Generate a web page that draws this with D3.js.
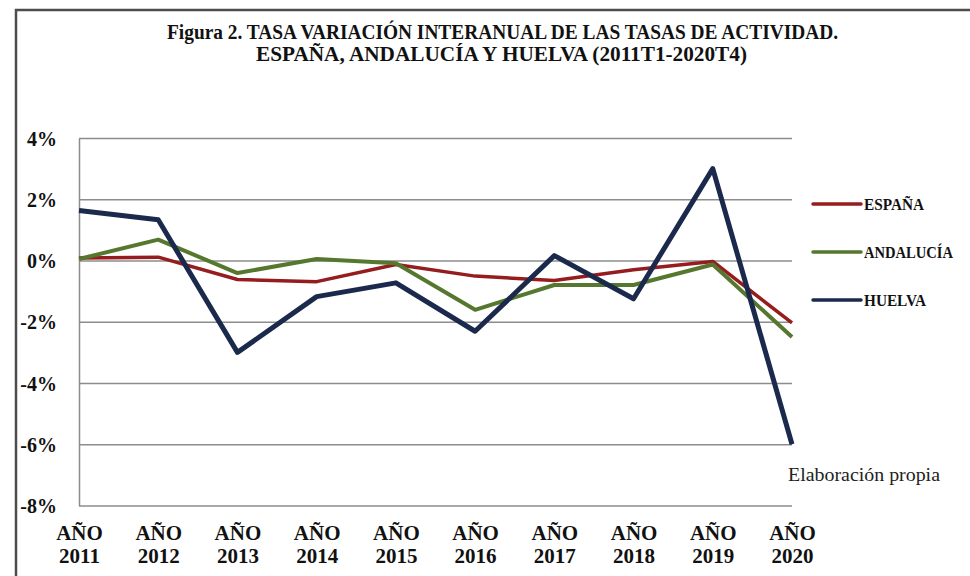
<!DOCTYPE html>
<html>
<head>
<meta charset="utf-8">
<script src="https://cdn.jsdelivr.net/npm/d3@7"></script>
<style>
  body { margin: 0; background: #fff; }
  svg { display: block; font-family: "Liberation Serif", "DejaVu Serif", serif; }
</style>
</head>
<body>
<div id="chart"></div>
<script>
// data
const years = ["2011", "2012", "2013", "2014", "2015", "2016", "2017", "2018", "2019", "2020"]
const espana    = [0.08, 0.11, -0.62, -0.69, -0.13, -0.51, -0.65, -0.30, -0.03, -2.04]
const andalucia = [0.05, 0.68, -0.41, 0.05, -0.09, -1.61, -0.80, -0.80, -0.13, -2.50]
const huelva    = [1.63, 1.33, -3.00, -1.18, -0.73, -2.31, 0.16, -1.25, 3.00, -6.00]
const yTicks = [-8, -6, -4, -2, 0, 2, 4]

const seriesNames = ["ESPAÑA", "ANDALUCÍA", "HUELVA"]
const seriesValues = [espana, andalucia, huelva]
const colors = ["#951c1f", "#56772e", "#1b2a4c"]
const widths = [3.5, 4, 5]

var width = 970, height = 576
var plot = {left: 79, right: 792, top: 138, bottom: 505.5}

var svg = d3.select("#chart")
  .append("svg")
    .attr("width", width)
    .attr("height", height)

// frame (top and left edges)
svg.append("path")
  .attr("d", "M16,576V10H970")
  .attr("fill", "none")
  .attr("stroke", "#4d4d4d")
  .attr("stroke-width", 2.5)

// title
var title = svg.append("g")
  .attr("font-weight", "bold")
  .attr("font-size", 20)
  .attr("fill", "#111")
title.append("text")
  .attr("x", 167).attr("y", 39)
  .attr("textLength", 671)
  .attr("lengthAdjust", "spacingAndGlyphs")
  .text("Figura 2. TASA VARIACIÓN INTERANUAL DE LAS TASAS DE ACTIVIDAD.")
title.append("text")
  .attr("x", 256).attr("y", 61)
  .attr("textLength", 491)
  .attr("lengthAdjust", "spacingAndGlyphs")
  .text("ESPAÑA, ANDALUCÍA Y HUELVA (2011T1-2020T4)")

var x = d3.scalePoint()
  .domain(years)
  .range([plot.left, plot.right])

var y = d3.scaleLinear()
  .domain([-8, 4])
  .range([plot.bottom, plot.top])

// y axis with gridlines
var yAxis = svg.append("g")
  .attr("transform", "translate(" + plot.left + ",0)")
  .call(d3.axisLeft(y)
    .tickValues(yTicks)
    .tickSize(-(plot.right - plot.left))
    .tickSizeOuter(0)
    .tickPadding(22)
    .tickFormat(function(d) { return d + "%" }))
yAxis.select(".domain").attr("stroke", "#8c8c8c").attr("stroke-width", 1.5)
yAxis.selectAll(".tick line").attr("stroke", "#8c8c8c").attr("stroke-width", 1.5)
yAxis.selectAll(".tick text")
  .attr("font-family", "Liberation Serif, serif")
  .attr("font-weight", "bold")
  .attr("font-size", 20)
  .attr("fill", "#111")
  .attr("dy", "0.35em")

// x axis labels in two lines
var xAxis = svg.append("g")
  .attr("transform", "translate(0," + plot.bottom + ")")
  .call(d3.axisBottom(x).tickSize(0).tickFormat(""))
xAxis.select(".domain").remove()
var xt = xAxis.selectAll(".tick").append("text")
  .attr("text-anchor", "middle")
  .attr("font-family", "Liberation Serif, serif")
  .attr("font-weight", "bold")
  .attr("font-size", 21)
  .attr("fill", "#111")
xt.append("tspan").attr("x", 0).attr("y", 34.5).text("AÑO")
xt.append("tspan").attr("x", 0).attr("y", 57.5).text(function(d) { return d })

// lines
var line = d3.line()
  .x(function(d, i) { return x(years[i]) })
  .y(function(d) { return y(d) })

svg.selectAll(".serie")
  .data(seriesValues)
  .enter()
  .append("path")
    .attr("class", "serie")
    .attr("d", line)
    .attr("fill", "none")
    .attr("stroke", function(d, i) { return colors[i] })
    .attr("stroke-width", function(d, i) { return widths[i] })
    .attr("stroke-linejoin", "round")

// legend
var legendY = [204, 252, 300]
var legendLen = [60, 89, 62]
var legend = svg.selectAll(".legend")
  .data(seriesNames)
  .enter()
  .append("g")
    .attr("class", "legend")
    .attr("transform", function(d, i) { return "translate(813," + legendY[i] + ")" })
legend.append("line")
  .attr("x1", 0).attr("x2", 48)
  .attr("stroke", function(d, i) { return colors[i] })
  .attr("stroke-width", 3.5)
  .attr("stroke-linecap", "round")
legend.append("text")
  .attr("x", 51)
  .attr("y", 6)
  .attr("font-weight", "bold")
  .attr("font-size", 17)
  .attr("fill", "#111")
  .attr("textLength", function(d, i) { return legendLen[i] })
  .attr("lengthAdjust", "spacingAndGlyphs")
  .text(function(d) { return d })

// source note
svg.append("text")
  .attr("x", 788).attr("y", 481)
  .attr("font-size", 18)
  .attr("fill", "#222")
  .attr("textLength", 152)
  .attr("lengthAdjust", "spacingAndGlyphs")
  .text("Elaboración propia")
</script>
</body>
</html>
